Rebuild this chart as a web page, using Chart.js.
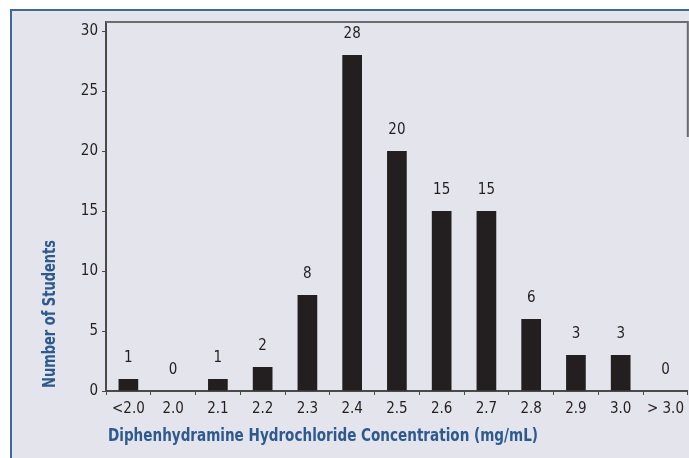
<!DOCTYPE html>
<html>
<head>
<meta charset="utf-8">
<script src="https://cdn.jsdelivr.net/npm/chart.js@4"></script>
<style>
  html, body { margin: 0; padding: 0; background: #fff; overflow: hidden; }
  #wrap { width: 689px; height: 458px; }
</style>
</head>
<body>
<div id="wrap"><canvas id="chart1" width="689" height="458"></canvas></div>
<script>
// --- data ---
const categories = ["<2.0", "2.0", "2.1", "2.2", "2.3", "2.4", "2.5", "2.6", "2.7", "2.8", "2.9", "3.0", "> 3.0"];
const students = [1, 0, 1, 2, 8, 28, 20, 15, 15, 6, 3, 3, 0];
const yTicks = [0, 5, 10, 15, 20, 25, 30];

const xTitle = "Diphenhydramine Hydrochloride Concentration (mg/mL)";
const yTitle = "Number of Students";

const FONT = "'Liberation Sans Narrow', 'DejaVu Sans Condensed', 'Roboto Condensed', sans-serif";
const BG = "#e3e4ec";
const BLUE = "#2d5a8e";
const INK = "#231f20";

// draws text squeezed to a given width (the original uses a condensed face)
function squeezedText(c, text, x, y, width) {
  const w = c.measureText(text).width;
  c.save();
  c.translate(x, y);
  c.scale(width / w, 1);
  c.fillText(text, 0, 0);
  c.restore();
}

// background panel with blue frame, plus plot top/right border and titles
const frame = {
  id: "frame",
  beforeDraw(chart) {
    const c = chart.ctx;
    c.save();
    c.fillStyle = "#fff";
    c.fillRect(0, 0, chart.width, chart.height);
    c.fillStyle = BG;
    c.fillRect(11, 10, chart.width - 11, chart.height - 10);
    c.strokeStyle = "#3a6aa0";
    c.lineWidth = 2;
    c.beginPath();
    c.moveTo(11, chart.height);
    c.lineTo(11, 10);
    c.lineTo(chart.width, 10);
    c.stroke();
    c.restore();
  },
  afterDraw(chart) {
    const a = chart.chartArea;
    const c = chart.ctx;
    c.save();
    c.strokeStyle = "#6b6b70";
    c.lineWidth = 2;
    c.beginPath();
    c.moveTo(a.left, a.top);
    c.lineTo(a.right, a.top);
    c.lineTo(a.right, a.top + 115);
    c.stroke();

    // axis titles
    c.fillStyle = BLUE;
    c.font = "bold 18px " + FONT;
    c.textBaseline = "middle";
    c.textAlign = "left";
    squeezedText(c, xTitle, a.left + 2, 436, 430);
    c.translate(50, a.bottom - 3);
    c.rotate(-Math.PI / 2);
    squeezedText(c, yTitle, 0, 0, 148);
    c.restore();
  }
};

// value labels above bars
const valueLabels = {
  id: "valueLabels",
  afterDatasetsDraw(chart) {
    const c = chart.ctx;
    const meta = chart.getDatasetMeta(0);
    c.save();
    c.fillStyle = INK;
    c.font = "15px " + FONT;
    c.textAlign = "center";
    c.textBaseline = "middle";
    meta.data.forEach((bar, i) => {
      let y = bar.y - 21;
      if (y < chart.chartArea.top + 9) y = chart.chartArea.top + 9;
      c.fillText(String(students[i]), bar.x, y);
    });
    c.restore();
  }
};

const ctx1 = document.getElementById("chart1");

new Chart(ctx1, {
  type: "bar",
  data: {
    labels: categories,
    datasets: [{
      label: "Number of Students",
      data: students,
      backgroundColor: INK,
      borderWidth: 0,
      barPercentage: 0.44,
      categoryPercentage: 1
    }]
  },
  options: {
    responsive: false,
    animation: false,
    layout: { padding: { left: 0, top: 22, right: 1, bottom: 0 } },
    plugins: {
      legend: { display: false },
      tooltip: { enabled: false }
    },
    scales: {
      x: {
        offset: true,
        grid: {
          display: true,
          drawOnChartArea: false,
          offset: true,
          tickLength: 4,
          color: "#4a4a4a",
          lineWidth: 1
        },
        border: { color: "#4a4a4a", width: 2 },
        ticks: {
          color: INK,
          font: { family: FONT, size: 15 },
          padding: 5,
          maxRotation: 0,
          autoSkip: false
        },
        afterFit(scale) { scale.height = 67; }
      },
      y: {
        min: 0,
        max: 30.75,
        afterBuildTicks(scale) {
          scale.ticks = yTicks.map(v => ({ value: v }));
        },
        grid: {
          display: true,
          drawOnChartArea: false,
          tickLength: 4,
          color: "#4a4a4a"
        },
        border: { color: "#4a4a4a", width: 2 },
        ticks: {
          color: INK,
          font: { family: FONT, size: 15 },
          padding: 4
        },
        afterFit(scale) { scale.width = 106; }
      }
    }
  },
  plugins: [frame, valueLabels]
});
</script>
</body>
</html>
